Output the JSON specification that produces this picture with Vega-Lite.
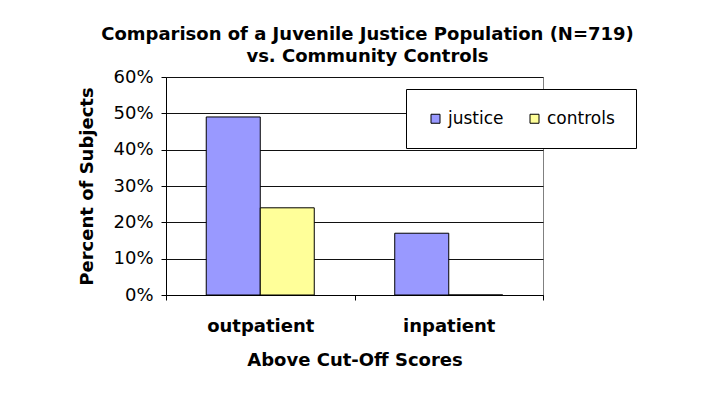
{
  "$schema": "https://vega.github.io/schema/vega-lite/v6.json",
  "autosize": {"type": "none"},
  "padding": {"left": 166, "top": 77, "right": 167, "bottom": 109},
  "width": 377,
  "height": 218,
  "background": "white",
  "title": {
    "text": ["Comparison of a Juvenile Justice Population (N=719)", "vs. Community Controls"],
    "font": "DejaVu Sans",
    "fontSize": 18,
    "fontWeight": "bold",
    "color": "black",
    "anchor": "middle",
    "frame": "group",
    "dx": 13,
    "offset": 2,
    "lineHeight": 22
  },
  "data": {
    "values": [
      {"category": "outpatient", "group": "justice", "percent": 0.49},
      {"category": "outpatient", "group": "controls", "percent": 0.24},
      {"category": "inpatient", "group": "justice", "percent": 0.17},
      {"category": "inpatient", "group": "controls", "percent": 0.0}
    ]
  },
  "mark": {"type": "bar", "stroke": "black", "strokeWidth": 1},
  "encoding": {
    "x": {
      "field": "category",
      "type": "nominal",
      "sort": ["outpatient", "inpatient"],
      "scale": {"paddingInner": 0, "paddingOuter": 0},
      "axis": {
        "title": "Above Cut-Off Scores",
        "labelAngle": 0,
        "tickBand": "extent",
        "tickSize": 5,
        "tickColor": "black",
        "domainColor": "black",
        "labelFont": "DejaVu Sans",
        "labelFontSize": 18,
        "labelFontWeight": "bold",
        "labelColor": "black",
        "labelPadding": 17,
        "titleFont": "DejaVu Sans",
        "titleFontSize": 18,
        "titleFontWeight": "bold",
        "titleColor": "black",
        "titlePadding": 16
      }
    },
    "xOffset": {
      "field": "group",
      "type": "nominal",
      "sort": ["justice", "controls"],
      "scale": {"paddingInner": 0, "paddingOuter": 0.745}
    },
    "y": {
      "field": "percent",
      "type": "quantitative",
      "scale": {"domain": [0, 0.6]},
      "axis": {
        "title": "Percent of Subjects",
        "format": ".0%",
        "values": [0, 0.1, 0.2, 0.3, 0.4, 0.5, 0.6],
        "tickSize": 5,
        "tickColor": "black",
        "domainColor": "black",
        "gridColor": "#111111",
        "gridOpacity": 1,
        "labelFont": "DejaVu Sans",
        "labelFontSize": 18,
        "labelColor": "black",
        "labelPadding": 8,
        "titleFont": "DejaVu Sans",
        "titleFontSize": 18,
        "titleFontWeight": "bold",
        "titleColor": "black",
        "titlePadding": 16
      }
    },
    "color": {
      "field": "group",
      "type": "nominal",
      "scale": {"domain": ["justice", "controls"], "range": ["#9999FF", "#FFFF99"]},
      "legend": {
        "title": null,
        "orient": "none",
        "legendX": 240,
        "legendY": 12,
        "direction": "horizontal",
        "fillColor": "white",
        "strokeColor": "black",
        "padding": 21,
        "symbolType": "square",
        "symbolSize": 81,
        "symbolStrokeColor": "black",
        "symbolStrokeWidth": 1,
        "symbolOpacity": 1,
        "labelFont": "DejaVu Sans",
        "labelFontSize": 17,
        "labelColor": "black",
        "labelOffset": 4,
        "columnPadding": 22
      }
    }
  },
  "config": {
    "view": {"stroke": "#808080", "strokeWidth": 1},
    "bar": {"opacity": 1}
  }
}
